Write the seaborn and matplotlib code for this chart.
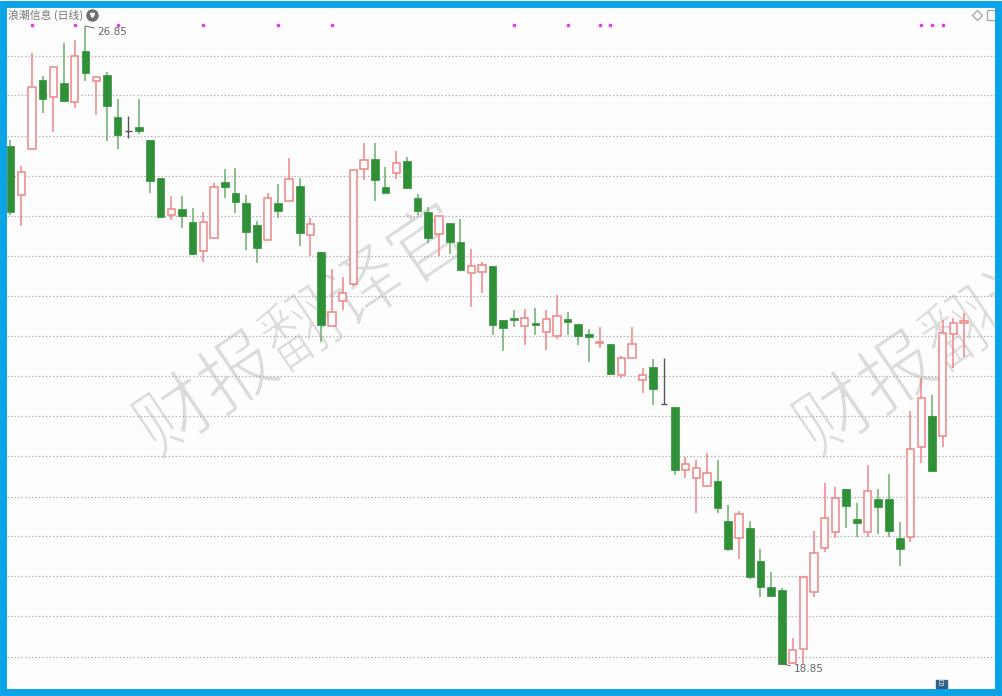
import matplotlib
matplotlib.use("Agg")
import matplotlib.pyplot as plt
import matplotlib.patheffects as pe
from matplotlib.patches import Rectangle
import seaborn as sns
import pandas as pd

opens = [25.35, 24.73, 25.31, 26.17, 25.96, 26.14, 25.90, 26.54, 26.16, 26.24,
         25.71, 25.53, 25.58, 25.42, 24.94, 24.48, 24.55, 24.39, 24.03, 24.19,
         24.89, 24.76, 24.63, 24.35, 24.17, 24.63, 24.66, 24.84, 24.23, 24.02,
         23.09, 23.40, 23.62, 25.06, 25.18, 24.83, 25.01, 25.16, 24.69, 24.52,
         24.24, 24.38, 24.14, 23.75, 23.77, 23.84, 23.16, 23.19, 23.09, 23.12,
         23.01, 22.96, 23.18, 23.11, 22.99, 22.88, 22.86, 22.47, 22.69, 22.41,
         22.57, 22.11, 22.07, 21.28, 21.18, 21.08, 21.14, 20.64, 20.43, 20.56,
         20.14, 19.82, 19.78, 18.86, 19.04, 19.75, 20.30, 20.51, 21.04, 20.67,
         20.51, 20.92, 20.92, 20.43, 20.44, 21.57, 21.96, 21.71, 22.99, 23.13]
closes = [24.52, 25.02, 26.09, 25.93, 26.34, 25.91, 26.47, 26.26, 26.21, 25.85,
          25.48, 25.53, 25.53, 24.91, 24.45, 24.55, 24.47, 23.99, 24.39, 24.83,
          24.83, 24.64, 24.27, 24.07, 24.69, 24.53, 24.93, 24.25, 24.37, 23.10,
          23.26, 23.50, 25.04, 25.17, 24.92, 24.76, 25.13, 24.82, 24.53, 24.19,
          24.47, 24.14, 23.79, 23.84, 23.85, 23.10, 23.06, 23.16, 23.19, 23.10,
          23.18, 23.21, 23.14, 22.96, 22.95, 22.89, 22.49, 22.69, 22.86, 22.47,
          22.30, 22.11, 21.28, 21.36, 21.31, 21.25, 20.81, 20.29, 20.73, 19.94,
          19.82, 19.70, 18.85, 19.03, 19.94, 20.24, 20.68, 20.93, 20.83, 20.62,
          21.02, 20.82, 20.52, 20.29, 21.55, 22.19, 21.27, 23.00, 23.13, 23.15]
highs = [25.42, 25.09, 26.51, 26.22, 26.34, 26.64, 26.67, 26.85, 26.21, 26.27,
         25.93, 25.72, 25.93, 25.42, 24.94, 24.72, 24.72, 24.57, 24.52, 24.88,
         25.06, 25.07, 24.73, 24.41, 24.76, 24.87, 25.19, 24.94, 24.44, 24.02,
         23.80, 23.70, 25.04, 25.38, 25.38, 25.08, 25.28, 25.21, 24.74, 24.58,
         24.47, 24.38, 24.43, 24.05, 23.89, 23.84, 23.16, 23.29, 23.30, 23.31,
         23.29, 23.48, 23.26, 23.11, 23.05, 23.08, 22.86, 22.71, 23.08, 22.56,
         22.67, 22.69, 22.07, 21.45, 21.41, 21.50, 21.41, 20.84, 20.77, 20.64,
         20.29, 20.00, 19.80, 19.18, 19.94, 20.52, 21.12, 21.07, 21.04, 20.87,
         21.35, 21.04, 21.23, 20.63, 22.02, 22.44, 22.22, 23.16, 23.19, 23.25]
lows = [24.48, 24.34, 25.30, 25.76, 25.52, 25.90, 25.82, 26.16, 25.73, 25.41,
        25.31, 25.45, 25.50, 24.76, 24.44, 24.42, 24.32, 23.98, 23.89, 24.19,
        24.69, 24.50, 24.04, 23.88, 24.17, 24.44, 24.66, 24.09, 23.97, 22.89,
        23.09, 23.29, 23.59, 24.92, 24.66, 24.76, 24.93, 24.82, 24.48, 24.13,
        23.97, 23.99, 23.79, 23.33, 23.50, 22.98, 22.78, 23.08, 22.85, 22.98,
        22.79, 22.93, 22.98, 22.85, 22.64, 22.81, 22.49, 22.44, 22.69, 22.25,
        22.10, 22.11, 21.22, 21.18, 20.74, 21.07, 20.74, 20.27, 20.17, 19.92,
        19.69, 19.70, 18.85, 18.85, 18.85, 19.69, 20.26, 20.43, 20.56, 20.44,
        20.44, 20.48, 20.44, 20.08, 20.38, 21.37, 21.27, 21.57, 22.56, 22.70]

# dotted grid prices
grid_prices = [26.48, 25.98, 25.47, 24.97, 24.47, 23.97, 23.47, 22.96,
               22.46, 21.96, 21.46, 20.95, 20.45, 19.95, 19.45, 18.94]
# candles that carry a magenta dot along the top
signal_days = [2, 6, 10, 18, 25, 30, 47, 52, 55, 56, 85, 86, 87]
signal_price = 26.86

title = "浪潮信息 (日线)"
watermark = "财报翻译官"

RED = "#ee8585"
GREEN = "#2f9038"
GREEN_WICK = "#6aae6e"
BLUE = "#0aa3e6"
BG = "#fdfdfd"

sns.set_theme(style="white")
plt.rcParams["font.family"] = ["Noto Sans CJK SC", "DejaVu Sans"]

df = pd.DataFrame({"day": range(len(opens)), "open": opens, "close": closes, "high": highs, "low": lows})
df["bottom"] = df[["open", "close"]].min(axis=1)
df["body"] = (df["open"] - df["close"]).abs()
up = df[(df["close"] > df["open"])]
down = df[df["close"] < df["open"]]
flat = df[df["close"] == df["open"]]

fig = plt.figure(figsize=(10.03, 6.96), dpi=100)
ax = fig.add_axes([0, 0, 1, 1])
ax.set_facecolor(BG)

# wicks
ax.vlines(up["day"], up["low"], up["high"], color=RED, lw=1.1, zorder=2)
ax.vlines(down["day"], down["low"], down["high"], color=GREEN_WICK, lw=1.1, zorder=2)
ax.vlines(flat["day"], flat["low"], flat["high"], color="#555555", lw=1.0, zorder=2)
ax.hlines(flat["close"], flat["day"] - 0.3, flat["day"] + 0.3, color="#555555", lw=1.0, zorder=2)

# bodies
sns.barplot(data=up, x="day", y="body", bottom=up["bottom"], native_scale=True, width=0.68,
            color=BG, saturation=1, edgecolor=RED, linewidth=1.1, errorbar=None, zorder=3, ax=ax)
sns.barplot(data=down, x="day", y="body", bottom=down["bottom"], native_scale=True, width=0.72,
            color=GREEN, saturation=1, edgecolor=GREEN, linewidth=0.5, errorbar=None, zorder=3, ax=ax)

sns.scatterplot(x=signal_days, y=[signal_price] * len(signal_days), color="#e23be2", s=7,
                linewidth=0, zorder=4, ax=ax)

ax.set_xlim(-0.98, 92.64)
ax.set_ylim(18.449, 27.176)
ax.set_xlabel("")
ax.set_ylabel("")
ax.set_xticks([])
ax.set_yticks(grid_prices)
ax.tick_params(left=False, labelleft=False)
ax.grid(axis="y", color="#b4b4b4", lw=0.9, linestyle=(0, (1.2, 1.6)))
ax.set_axisbelow(True)
for s in ax.spines.values():
    s.set_visible(False)

# watermark, second copy runs off the right edge; white outline thins the strokes
for cx in (0.302, 0.960):
    ax.text(cx, 0.521, watermark, transform=ax.transAxes, fontsize=55, color="#dcdcdc",
            rotation=34, rotation_mode="anchor", ha="center", va="center", zorder=0.4,
            path_effects=[pe.Normal(), pe.Stroke(linewidth=1.6, foreground=BG)])

# high / low labels
ax.annotate("26.85", xy=(df["high"].idxmax(), df["high"].max()), xytext=(8.5, -4.5),
            textcoords="offset points", fontsize=7.5, color="#666666", va="center", family="DejaVu Sans",
            arrowprops=dict(arrowstyle="-", color="#666666", lw=0.7, shrinkA=0, shrinkB=0))
ax.annotate("18.85", xy=(df["low"].idxmin(), df["low"].min()), xytext=(8.5, -3.5),
            textcoords="offset points", fontsize=7.5, color="#666666", va="center", family="DejaVu Sans",
            arrowprops=dict(arrowstyle="-", color="#666666", lw=0.7, shrinkA=0, shrinkB=0))

# header and small icons
ax.text(8 / 1003, 1 - 15 / 696, title, transform=ax.transAxes, fontsize=7.8, color="#777777", va="center", zorder=6)
ax.plot([92 / 1003], [1 - 15 / 696], "o", ms=8, color="#707070", transform=ax.transAxes, zorder=6)
ax.plot([92 / 1003], [1 - 15 / 696], "v", ms=3, color="white", transform=ax.transAxes, zorder=7)
ax.plot([977 / 1003], [1 - 15 / 696], "D", ms=5, mfc="none", mec="#aaaaaa", mew=1, transform=ax.transAxes, zorder=6)
ax.plot([992 / 1003], [1 - 15 / 696], "s", ms=7.5, mfc="none", mec="#aaaaaa", mew=1, transform=ax.transAxes, zorder=6)
ax.add_patch(Rectangle((936 / 1003, 1 - 689 / 696), 11 / 1003, 9 / 696, transform=ax.transAxes,
                       color="#2f6288", zorder=6))
ax.text(941.5 / 1003, 1 - 684.5 / 696, "日", transform=ax.transAxes, fontsize=5, color="#dddddd",
        ha="center", va="center", zorder=7)

# blue frame
ax.add_patch(Rectangle((3.5 / 1003, 1 - 691.5 / 696), 995 / 1003, 688 / 696, transform=ax.transAxes,
                       fill=False, edgecolor=BLUE, lw=5, zorder=8))

fig.savefig("out.png", dpi=100)
